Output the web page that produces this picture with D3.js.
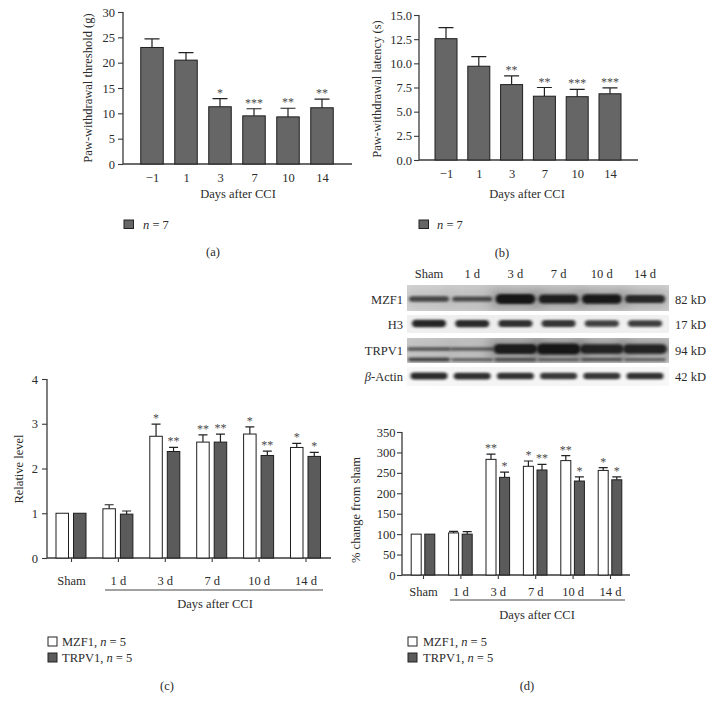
<!DOCTYPE html>
<html><head><meta charset="utf-8">
<script src="https://cdn.jsdelivr.net/npm/d3@7"></script>
<style>
body{margin:0;background:#fff}
svg text{font-family:"Liberation Serif","DejaVu Serif",serif;fill:#2b2b2b}
</style></head><body>
<svg id="c" width="716" height="712"></svg>
<script>
// ---------- data ----------
const daysCats = ["\u22121","1","3","7","10","14"];
const thresholdMean = [23.0,20.5,11.3,9.5,9.3,11.1];
const thresholdErr  = [1.7,1.5,1.6,1.4,1.7,1.7];
const thresholdSig  = ["","","*","***","**","**"];
const thresholdTicks = [0,5,10,15,20,25,30];

const latencyMean = [12.55,9.7,7.8,6.6,6.55,6.85];
const latencyErr  = [1.15,1.0,0.9,0.9,0.75,0.62];
const latencySig  = ["","","**","**","***","***"];
const latencyTicks = [0,2.5,5,7.5,10,12.5,15];

const groups = ["Sham","1 d","3 d","7 d","10 d","14 d"];
const relMZF1     = [1.0,1.1,2.72,2.59,2.77,2.47];
const relMZF1Err  = [0,0.09,0.27,0.16,0.16,0.09];
const relMZF1Sig  = ["","","*","**","*","*"];
const relTRPV1    = [1.0,0.98,2.38,2.59,2.29,2.27];
const relTRPV1Err = [0,0.07,0.09,0.18,0.10,0.09];
const relTRPV1Sig = ["","","**","**","**","*"];
const relTicks = [0,1,2,3,4];

const pctMZF1     = [100,103,283,266,280,256];
const pctMZF1Err  = [0,4,13,13,12,7];
const pctMZF1Sig  = ["","","**","*","**","*"];
const pctTRPV1    = [100,100,239,257,230,233];
const pctTRPV1Err = [0,6,13,14,10,7];
const pctTRPV1Sig = ["","","*","**","*","*"];
const pctTicks = [0,50,100,150,200,250,300,350];

// western blot relative band intensities (0..1)
const blotRows = ["MZF1","H3","TRPV1","\u03b2-Actin"];
const blotKD = ["82 kD","17 kD","94 kD","42 kD"];
const mzf1Band     = [0.3,0.25,1.0,0.85,0.95,0.7];
const h3Band       = [0.8,0.75,0.7,0.62,0.5,0.55];
const trpv1Band    = [0.15,0.12,0.9,1.0,0.8,0.8];
const trpv1LowBand = [0.6,0.3,0.5,0.3,0.45,0.3];
const actinBand    = [0.75,0.7,0.68,0.6,0.62,0.68];

// ---------- drawing ----------
const svg = d3.select("#c");
const defs = svg.append("defs");
defs.append("filter").attr("id","blur").attr("x","-30%").attr("y","-150%").attr("width","160%").attr("height","400%")
  .append("feGaussianBlur").attr("stdDeviation","1.8 1.0");
defs.append("filter").attr("id","haze").attr("x","-50%").attr("y","-200%").attr("width","200%").attr("height","500%")
  .append("feGaussianBlur").attr("stdDeviation","6 4");

const AX = "#3a3a3a";
const DARK = "#666666";
const DARK2 = "#5b5b5b";
const STAR = "#4a4a4a";

function styleAxis(g){
  g.selectAll(".domain").remove();
  g.selectAll(".tick line").attr("stroke",AX).attr("stroke-width",1.1);
  g.selectAll(".tick text").attr("font-size",12.5).attr("fill","#2b2b2b");
}

function yTitle(text,x,y){
  svg.append("text").attr("transform",`translate(${x},${y}) rotate(-90)`)
    .attr("text-anchor","middle").attr("font-size",12.5).text(text);
}
function label(text,x,y,size,anchor){
  return svg.append("text").attr("x",x).attr("y",y).attr("font-size",size||12.5)
    .attr("text-anchor",anchor||"middle").text(text);
}

function errorBars(g, xs, means, errs, y, capW){
  g.selectAll(null).data(means).join("path")
    .attr("d",(d,i)=>{
      if(!errs[i]) return null;
      const x=xs(i), y0=y(d), y1=y(d+errs[i]);
      return `M${x},${y0}V${y1}M${x-capW/2},${y1}H${x+capW/2}`;
    })
    .attr("stroke","#222").attr("stroke-width",1.2).attr("fill","none");
}
function stars(g, xs, means, errs, sig, y){
  g.selectAll(null).data(sig).join("text")
    .attr("x",(d,i)=>xs(i)).attr("y",(d,i)=>y(means[i]+errs[i])-2)
    .attr("text-anchor","middle").attr("font-size",12).style("fill",STAR)
    .text(d=>d);
}

// ---- single-series panels (a) and (b)
function singlePanel(o){
  const g = svg.append("g");
  const y = d3.scaleLinear().domain([0,o.ticks[o.ticks.length-1]]).range([o.yBot,o.yTop]);
  const x = d3.scalePoint().domain(daysCats).range([o.c0,o.c1]);
  g.append("g").attr("transform",`translate(${o.x0},0)`)
    .call(d3.axisLeft(y).tickValues(o.ticks).tickFormat(o.fmt).tickSize(5).tickSizeOuter(0).tickPadding(o.yPad))
    .call(styleAxis);
  g.append("g").attr("transform",`translate(0,${o.yBot})`)
    .call(d3.axisBottom(x).tickSize(0).tickPadding(9.5)).call(styleAxis);
  g.append("line").attr("x1",o.x0).attr("x2",o.x0).attr("y1",o.yTop).attr("y2",o.yBot).attr("stroke",AX).attr("stroke-width",1.3);
  g.append("line").attr("x1",o.x0).attr("x2",o.x1).attr("y1",o.yBot).attr("y2",o.yBot).attr("stroke",AX).attr("stroke-width",1.3);
  const xi = i=>x(daysCats[i]);
  errorBars(g, xi, o.mean, o.err, y, 15);
  g.selectAll(null).data(o.mean).join("rect")
    .attr("x",(d,i)=>xi(i)-o.bw/2).attr("width",o.bw)
    .attr("y",d=>y(d)).attr("height",d=>o.yBot-y(d))
    .attr("fill",DARK).attr("stroke","#1e1e1e").attr("stroke-width",1);
  stars(g, xi, o.mean, o.err, o.sig, y);
}

singlePanel({mean:thresholdMean, err:thresholdErr, sig:thresholdSig, ticks:thresholdTicks, fmt:d3.format("d"),
  x0:123, x1:352, yTop:12, yBot:164, c0:152, c1:322, bw:22.5, yPad:3});
yTitle("Paw-withdrawal threshold (g)", 92, 88);
label("Days after CCI", 238, 198);
svg.append("rect").attr("x",124).attr("y",220).attr("width",9.5).attr("height",8.5).attr("fill",DARK).attr("stroke","#222");
svg.append("text").attr("x",143).attr("y",229).attr("font-size",12.5)
  .call(t=>{t.append("tspan").attr("font-style","italic").text("n");t.append("tspan").text(" = 7");});
label("(a)", 213, 256);

singlePanel({mean:latencyMean, err:latencyErr, sig:latencySig, ticks:latencyTicks, fmt:d3.format(".1f"),
  x0:419, x1:638, yTop:15, yBot:160, c0:446, c1:610, bw:22, yPad:2});
yTitle("Paw-withdrawal latency (s)", 381, 89);
label("Days after CCI", 527, 198);
svg.append("rect").attr("x",419).attr("y",220).attr("width",9.5).attr("height",8.5).attr("fill",DARK).attr("stroke","#222");
svg.append("text").attr("x",437).attr("y",229).attr("font-size",12.5)
  .call(t=>{t.append("tspan").attr("font-style","italic").text("n");t.append("tspan").text(" = 7");});
label("(b)", 502, 257);

// ---- grouped panels (c) and (d)
function groupedPanel(o){
  const g = svg.append("g");
  const y = d3.scaleLinear().domain([0,o.ticks[o.ticks.length-1]]).range([o.yBot,o.yTop]);
  const x = d3.scalePoint().domain(groups).range([o.c0,o.c1]);
  g.append("g").attr("transform",`translate(${o.x0},0)`)
    .call(d3.axisLeft(y).tickValues(o.ticks).tickFormat(d3.format("d")).tickSize(5).tickSizeOuter(0).tickPadding(o.yPad))
    .call(styleAxis);
  g.append("g").attr("transform",`translate(0,${o.yBot})`)
    .call(d3.axisBottom(x).tickSize(4).tickPadding(o.xPad)).call(styleAxis);
  g.append("line").attr("x1",o.x0).attr("x2",o.x0).attr("y1",o.yTop).attr("y2",o.yBot).attr("stroke",AX).attr("stroke-width",1.3);
  g.append("line").attr("x1",o.x0).attr("x2",o.x1).attr("y1",o.yBot).attr("y2",o.yBot).attr("stroke",AX).attr("stroke-width",1.3);
  const series = [
    {m:o.m1, e:o.e1, s:o.s1, off:-o.off, fill:"#fff"},
    {m:o.m2, e:o.e2, s:o.s2, off:o.off, fill:DARK2}
  ];
  series.forEach(sr=>{
    const xi = i=>x(groups[i])+sr.off;
    errorBars(g, xi, sr.m, sr.e, y, 9);
    g.selectAll(null).data(sr.m).join("rect")
      .attr("x",(d,i)=>xi(i)-o.bw/2).attr("width",o.bw)
      .attr("y",d=>y(d)).attr("height",d=>o.yBot-y(d))
      .attr("fill",sr.fill).attr("stroke","#1e1e1e").attr("stroke-width",1);
    stars(g, xi, sr.m, sr.e, sr.s, y);
  });
  g.append("line").attr("x1",o.u0).attr("x2",o.u1).attr("y1",o.uy).attr("y2",o.uy).attr("stroke","#444").attr("stroke-width",1);
}

groupedPanel({m1:relMZF1,e1:relMZF1Err,s1:relMZF1Sig,m2:relTRPV1,e2:relTRPV1Err,s2:relTRPV1Sig,
  ticks:relTicks, x0:47, x1:331, yTop:379, yBot:558, c0:71, c1:305.5, bw:12.5, off:8.75, yPad:4, xPad:14.5,
  u0:105, u1:323, uy:590});
yTitle("Relative level", 23, 469);
label("Days after CCI", 215, 608);

groupedPanel({m1:pctMZF1,e1:pctMZF1Err,s1:pctMZF1Sig,m2:pctTRPV1,e2:pctTRPV1Err,s2:pctTRPV1Sig,
  ticks:pctTicks, x0:402, x1:630, yTop:432, yBot:575, c0:423, c1:610, bw:10, off:6.8, yPad:1.5, xPad:8.5,
  u0:450, u1:625, uy:600});
yTitle("% change from sham", 360, 510);
label("Days after CCI", 537, 619);

function legend2(x, tx){
  svg.append("rect").attr("x",x).attr("y",637).attr("width",9).attr("height",9).attr("fill","#fff").attr("stroke","#222");
  svg.append("rect").attr("x",x).attr("y",653).attr("width",9).attr("height",9).attr("fill",DARK2).attr("stroke","#222");
  svg.append("text").attr("x",tx).attr("y",646).attr("font-size",12.5)
    .call(t=>{t.append("tspan").text("MZF1, ");t.append("tspan").attr("font-style","italic").text("n");t.append("tspan").text(" = 5");});
  svg.append("text").attr("x",tx).attr("y",662).attr("font-size",12.5)
    .call(t=>{t.append("tspan").text("TRPV1, ");t.append("tspan").attr("font-style","italic").text("n");t.append("tspan").text(" = 5");});
}
legend2(48, 62);
legend2(408, 423);
label("(c)", 167, 690);
label("(d)", 527, 690);

// ---- western blot
const lane = d3.scalePoint().domain(groups).range([429,645]);
const blot = svg.append("g");
const stripX0 = 407, stripX1 = 669;
const strips = [
  {y0:285, y1:311, bg:["#d4d4d4","#c8c8c8","#cbcbcb","#d2d2d2"]},
  {y0:315, y1:333, bg:["#f0f0f0","#ededed","#eeeeee","#f1f1f1"]},
  {y0:338, y1:363, bg:["#cacaca","#bfbfbf","#c2c2c2","#c8c8c8"]},
  {y0:367, y1:386, bg:["#f7f7f7","#f4f4f4","#f5f5f5","#f7f7f7"]}
];
strips.forEach((s,k)=>{
  const gid = "sg"+k;
  const lg = defs.append("linearGradient").attr("id",gid);
  s.bg.forEach((c,j)=>lg.append("stop").attr("offset",(j/(s.bg.length-1))).attr("stop-color",c));
  defs.append("clipPath").attr("id","clip"+k).append("rect")
    .attr("x",stripX0).attr("y",s.y0).attr("width",stripX1-stripX0).attr("height",s.y1-s.y0);
  blot.append("rect").attr("x",stripX0).attr("y",s.y0).attr("width",stripX1-stripX0).attr("height",s.y1-s.y0)
    .attr("fill",`url(#${gid})`);
});

function bands(k, vals, yc, minH, maxH, w, hazeOp, base){
  const gg = blot.append("g").attr("clip-path",`url(#clip${k})`);
  if(hazeOp){
    gg.selectAll(null).data(vals).join("rect")
      .attr("x",(d,i)=>lane(groups[i])-w/2-4).attr("width",w+8)
      .attr("y",yc-10).attr("height",20)
      .attr("fill","#555").attr("opacity",d=>hazeOp*d).attr("filter","url(#haze)");
  }
  gg.selectAll(null).data(vals).join("rect")
    .attr("x",(d,i)=>lane(groups[i])-w/2).attr("width",w)
    .attr("y",d=>yc-(minH+(maxH-minH)*d)/2).attr("height",d=>minH+(maxH-minH)*d)
    .attr("rx",d=>(minH+(maxH-minH)*d)/2)
    .attr("fill","#151515").attr("opacity",d=>base+(1-base)*d).attr("filter","url(#blur)");
}
bands(0, mzf1Band, 299, 3.5, 10, 40, 0.35, 0.6);
bands(1, h3Band, 323.5, 5, 8, 34, 0, 0.6);
bands(2, trpv1LowBand, 359.5, 2.5, 5, 42, 0, 0.35);
bands(2, trpv1Band, 349, 2.5, 11, 44, 0.45, 0.5);
bands(3, actinBand, 376, 5, 7.5, 37, 0, 0.6);

blot.selectAll(null).data(groups).join("text")
  .attr("x",d=>lane(d)).attr("y",278).attr("text-anchor","middle").attr("font-size",12.5).text(d=>d);
const rowY = [304, 329, 355, 381];
blot.selectAll(null).data(blotRows).join("text")
  .attr("x",403).attr("y",(d,i)=>rowY[i]).attr("text-anchor","end").attr("font-size",12.5)
  .each(function(d){
    const t=d3.select(this);
    if(d.startsWith("\u03b2")){t.append("tspan").attr("font-style","italic").text("\u03b2");t.append("tspan").text(d.slice(1));}
    else t.text(d);
  });
blot.selectAll(null).data(blotKD).join("text")
  .attr("x",675).attr("y",(d,i)=>rowY[i]).attr("font-size",12.5).text(d=>d);
</script>
</body></html>
